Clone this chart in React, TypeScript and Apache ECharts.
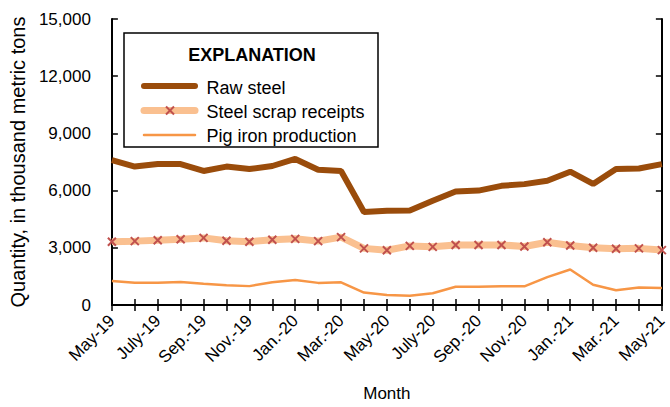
import React, { useEffect, useRef } from "react";
import * as echarts from "echarts";

const months = [
  "May-19", "June-19", "July-19", "Aug.-19", "Sep.-19", "Oct.-19", "Nov.-19", "Dec.-19",
  "Jan.-20", "Feb.-20", "Mar.-20", "Apr.-20", "May-20", "June-20", "July-20", "Aug.-20",
  "Sep.-20", "Oct.-20", "Nov.-20", "Dec.-20", "Jan.-21", "Feb.-21", "Mar.-21", "Apr.-21", "May-21",
];
const rawSteel = [
  7600, 7260, 7390, 7390, 7030, 7260, 7130, 7290, 7660, 7090, 7030, 4880, 4945,
  4960, 5470, 5950, 6000, 6250, 6340, 6520, 6990, 6350, 7130, 7160, 7390,
];
const steelScrap = [
  3320, 3350, 3400, 3450, 3520, 3370, 3320, 3420, 3470, 3350, 3560, 2970, 2870,
  3100, 3050, 3150, 3150, 3150, 3070, 3290, 3120, 3000, 2950, 2970, 2880,
];
const pigIron = [
  1260, 1170, 1170, 1210, 1120, 1040, 990, 1190, 1310, 1160, 1190, 650, 520,
  490, 620, 955, 955, 980, 980, 1460, 1860, 1060, 770, 920, 890,
];
const seriesNames = ["Raw steel", "Steel scrap receipts", "Pig iron production"];
const yTicks = { min: 0, max: 15000, interval: 3000 };

const FONT = "'Liberation Sans Narrow', 'Arial Narrow', 'Liberation Sans', Arial, sans-serif";
const C_RAW = "#9a4c0b";
const C_SCRAP = "#fac090";
const C_MARK = "#c0504d";
const C_PIG = "#f79646";

export default function App() {
  const ref = useRef<HTMLDivElement>(null);
  useEffect(() => {
    document.body.style.margin = "0";
    if (!ref.current) return;
    const chart = echarts.init(ref.current, undefined, { renderer: "svg" });
    const axisLine = { show: true, lineStyle: { color: "#000", width: 2 } };
    const tick = { show: true, inside: true, length: 6, lineStyle: { color: "#000", width: 1.5 } };
    const rowY = [86, 110.5, 135];
    chart.setOption({
      animation: false,
      textStyle: { fontFamily: FONT },
      grid: { left: 107, right: 5, top: 19, bottom: 90, containLabel: false },
      graphic: [
        {
          type: "rect",
          shape: { x: 124, y: 33, width: 254, height: 114 },
          style: { fill: "#fff", stroke: "#000", lineWidth: 1.5 },
          z: 5,
        },
        {
          type: "text",
          x: 252,
          y: 55,
          style: {
            text: "EXPLANATION",
            fontFamily: FONT,
            fontSize: 18,
            fontWeight: "bold",
            fill: "#000",
            align: "center",
            verticalAlign: "middle",
          },
          z: 6,
        },
        {
          type: "line",
          shape: { x1: 144, y1: rowY[0], x2: 195, y2: rowY[0] },
          style: { stroke: C_RAW, lineWidth: 6, lineCap: "round" },
          z: 11,
        },
        {
          type: "line",
          shape: { x1: 144, y1: rowY[1], x2: 195, y2: rowY[1] },
          style: { stroke: C_SCRAP, lineWidth: 7, lineCap: "round" },
          z: 11,
        },
        {
          type: "line",
          shape: { x1: 166, y1: rowY[1] - 4, x2: 174, y2: rowY[1] + 4 },
          style: { stroke: C_MARK, lineWidth: 2 },
          z: 12,
        },
        {
          type: "line",
          shape: { x1: 174, y1: rowY[1] - 4, x2: 166, y2: rowY[1] + 4 },
          style: { stroke: C_MARK, lineWidth: 2 },
          z: 12,
        },
        {
          type: "line",
          shape: { x1: 144, y1: rowY[2], x2: 195, y2: rowY[2] },
          style: { stroke: C_PIG, lineWidth: 2.5, lineCap: "round" },
          z: 11,
        },
      ],
      legend: {
        orient: "vertical",
        left: 142,
        top: 74,
        itemWidth: 55,
        itemHeight: 14,
        itemGap: 5.5,
        icon: "rect",
        selectedMode: false,
        itemStyle: { opacity: 0 },
        lineStyle: { opacity: 0 },
        z: 10,
        textStyle: { fontFamily: FONT, fontSize: 18, color: "#000", padding: [0, 0, 0, -3] },
        data: seriesNames,
      },
      xAxis: [
        {
          type: "category",
          data: months,
          boundaryGap: false,
          position: "bottom",
          name: "Month",
          nameLocation: "middle",
          nameGap: 80,
          nameTextStyle: { fontFamily: FONT, fontSize: 17, color: "#000" },
          axisLine,
          axisTick: { ...tick, interval: 0 },
          axisLabel: {
            interval: 1,
            rotate: 45,
            fontFamily: FONT,
            fontSize: 17,
            color: "#000",
            margin: 13,
          },
          splitLine: { show: false },
        },
        {
          type: "category",
          data: months,
          boundaryGap: false,
          position: "top",
          axisLine,
          axisTick: { ...tick, interval: 0 },
          axisLabel: { show: false },
          splitLine: { show: false },
        },
      ],
      yAxis: [
        {
          type: "value",
          ...yTicks,
          position: "left",
          name: "Quantity, in thousand metric tons",
          nameLocation: "middle",
          nameGap: 63,
          nameTextStyle: { fontFamily: FONT, fontSize: 20, color: "#000" },
          axisLine,
          axisTick: tick,
          axisLabel: {
            fontFamily: FONT,
            fontSize: 17,
            color: "#000",
            margin: 21,
            formatter: (v: number) => v.toLocaleString("en-US"),
          },
          splitLine: { show: false },
        },
        {
          type: "value",
          ...yTicks,
          position: "right",
          axisLine,
          axisTick: tick,
          axisLabel: { show: false },
          splitLine: { show: false },
        },
      ],
      series: [
        {
          name: seriesNames[0],
          type: "line",
          data: rawSteel,
          symbol: "none",
          color: C_RAW,
          lineStyle: { color: C_RAW, width: 6 },
          z: 3,
        },
        {
          name: seriesNames[1],
          type: "line",
          data: steelScrap,
          symbol: "path://M0,0L10,10M10,0L0,10",
          symbolSize: 8,
          showSymbol: true,
          color: C_SCRAP,
          itemStyle: { color: "none", borderColor: C_MARK, borderWidth: 2 },
          lineStyle: { color: C_SCRAP, width: 7 },
          z: 2,
        },
        {
          name: seriesNames[2],
          type: "line",
          data: pigIron,
          symbol: "none",
          color: C_PIG,
          lineStyle: { color: C_PIG, width: 2.5 },
          z: 2,
        },
      ],
    });
    return () => chart.dispose();
  }, []);
  return <div ref={ref} style={{ width: 670, height: 407 }} />;
}
